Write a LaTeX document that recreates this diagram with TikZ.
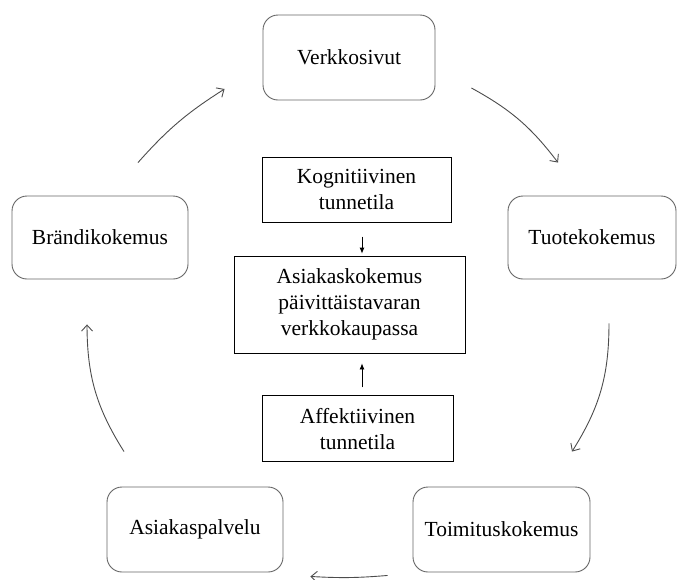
\documentclass[tikz,border=0pt]{standalone}
\usepackage{fontspec}
\setmainfont{Liberation Serif}
\usetikzlibrary{arrows.meta,positioning}

\begin{document}
\begin{tikzpicture}[
	x=1pt, y=1pt,
	>={Straight Barb[length=6pt,width=11pt]},
	stage/.style={draw=black!60, line width=0.9pt, rounded corners=15pt, align=center, inner sep=0pt, font=\fontsize{21.5}{26}\selectfont},
	state/.style={draw, line width=0.8pt, align=center, inner sep=0pt, font=\fontsize{21.5}{26}\selectfont},
	cyc/.style={->, draw=black!70, line width=0.9pt},
	lnk/.style={-{Latex[length=6pt,width=5pt]}, line width=0.8pt}
]
\useasboundingbox (0,0) rectangle (677,-579);

\node[stage, minimum width=172pt, minimum height=85pt] (web) at (349,-57.5) {Verkkosivut};
\node[stage, minimum width=168pt, minimum height=83pt] (tuote) at (592,-237.5) {Tuotekokemus};
\node[stage, minimum width=177pt, minimum height=85pt] (toimitus) at (501.5,-529.5) {Toimituskokemus};
\node[stage, minimum width=176pt, minimum height=85pt] (palvelu) at (195,-529.5) {Asiakaspalvelu};
\node[stage, minimum width=176pt, minimum height=83pt] (brand) at (100,-237.5) {Brändikokemus};

\node[state, minimum width=231pt, minimum height=97pt] (asiakas) at (349.5,-304.5) {Asiakaskokemus\\päivittäistavaran\\verkkokaupassa};
\node[state, minimum width=189pt, minimum height=65pt, above=33pt of asiakas, xshift=7pt] (kog) {Kognitiivinen\\tunnetila};
\node[state, minimum width=191pt, minimum height=66pt, below=42pt of asiakas, xshift=8pt] (affekt) {Affektiivinen\\tunnetila};

\draw[lnk, shorten <=14pt, shorten >=2pt] ([xshift=5.5pt]kog.south) -- ([xshift=12.5pt]asiakas.north);
\draw[lnk, shorten <=8pt, shorten >=10pt] ([xshift=4.5pt]affekt.north) -- ([xshift=12.5pt]asiakas.south);

\draw[cyc] ([shift={(38,33)}]brand.north) to[bend left=8] ([shift={(-38,-31.5)}]web.west);
\draw[cyc] ([shift={(36,-30.5)}]web.east) to[bend left=12] ([shift={(-34,33)}]tuote.north);
\draw[cyc] ([shift={(17,-44)}]tuote.south) to[bend left=16] ([shift={(70.5,35)}]toimitus.north);
\draw[cyc] ([shift={(-25,-3)}]toimitus.south west) to[bend left=4] ([shift={(27,-4)}]palvelu.south east);
\draw[cyc] ([shift={(-71,35)}]palvelu.north) to[bend left=16] ([shift={(-13,-45)}]brand.south);

\end{tikzpicture}
\end{document}
